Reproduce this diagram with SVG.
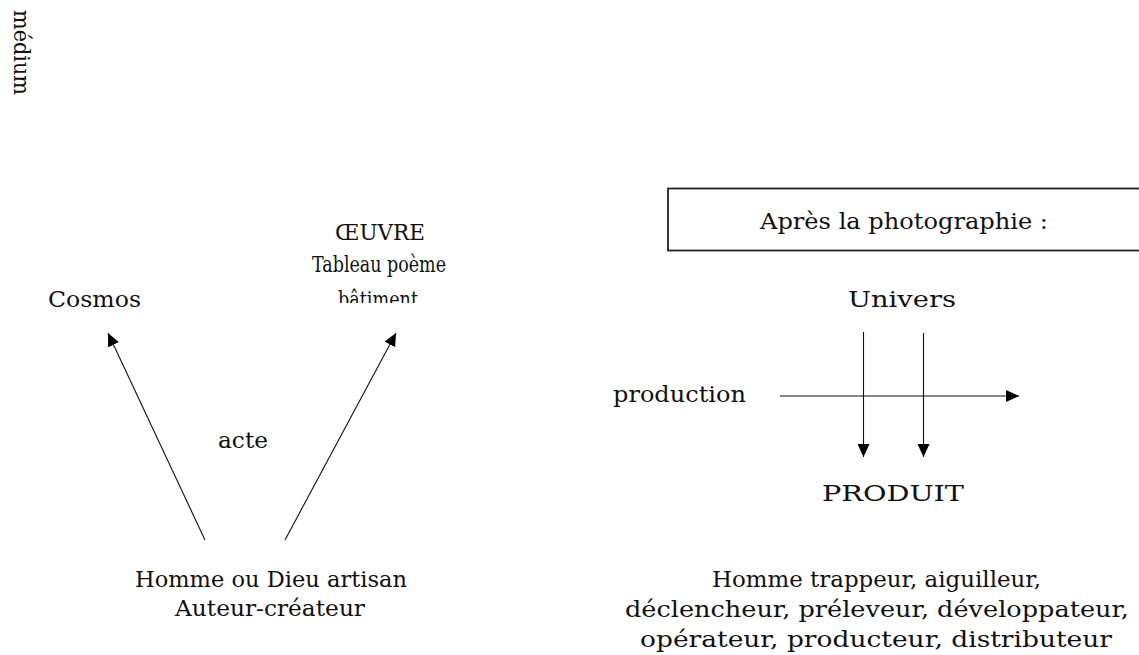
<svg xmlns="http://www.w3.org/2000/svg" width="1139" height="655" viewBox="0 0 1139 655">
<style>
text{font-family:"DejaVu Serif","Liberation Serif",serif;font-size:23px;fill:#111}
.ln{stroke:#111;stroke-width:1.1;fill:none}
</style>
<defs>
<marker id="ah" markerUnits="userSpaceOnUse" markerWidth="14" markerHeight="13" refX="13" refY="6" orient="auto">
<path d="M0,0 L13,6 L0,12 z" fill="#000"/>
</marker>
<clipPath id="clipB"><rect x="300" y="270" width="160" height="33"/></clipPath>
</defs>
<rect width="1139" height="655" fill="#fff"/>
<g id="medium"><text transform="translate(14,10) rotate(90)" x="0" y="0" textLength="85" lengthAdjust="spacingAndGlyphs">médium</text></g>
<g id="cosmos"><text x="48" y="307" textLength="93" lengthAdjust="spacingAndGlyphs">Cosmos</text></g>
<g id="oeuvre">
<text x="335" y="240" textLength="90" lengthAdjust="spacingAndGlyphs">ŒUVRE</text>
<text x="312" y="272" textLength="134" lengthAdjust="spacingAndGlyphs">Tableau poème</text>
<text x="338" y="307" textLength="80" lengthAdjust="spacingAndGlyphs" clip-path="url(#clipB)">bâtiment</text>
</g>
<g id="acte"><text x="218" y="448" textLength="50" lengthAdjust="spacingAndGlyphs">acte</text></g>
<g id="homme">
<text x="135" y="587" textLength="272" lengthAdjust="spacingAndGlyphs">Homme ou Dieu artisan</text>
<text x="175" y="616" textLength="190" lengthAdjust="spacingAndGlyphs">Auteur-créateur</text>
</g>
<g id="apres">
<rect x="668" y="188.5" width="520" height="62" fill="none" stroke="#222" stroke-width="1.8"/>
<text x="760" y="229" textLength="288" lengthAdjust="spacingAndGlyphs">Après la photographie :</text>
</g>
<g id="univers"><text x="848" y="307" textLength="108" lengthAdjust="spacingAndGlyphs">Univers</text></g>
<g id="production"><text x="613" y="402" textLength="133" lengthAdjust="spacingAndGlyphs">production</text></g>
<g id="produit"><text x="822" y="501" textLength="142" lengthAdjust="spacingAndGlyphs">PRODUIT</text></g>
<g id="homme2">
<text x="712" y="587" textLength="329" lengthAdjust="spacingAndGlyphs">Homme trappeur, aiguilleur,</text>
<text x="625" y="617" textLength="504" lengthAdjust="spacingAndGlyphs">déclencheur, préleveur, développateur,</text>
<text x="640" y="647" textLength="472" lengthAdjust="spacingAndGlyphs">opérateur, producteur, distributeur</text>
</g>
<g id="connectors">
<line class="ln" x1="205" y1="540" x2="108" y2="333" marker-end="url(#ah)"/>
<line class="ln" x1="285" y1="540" x2="396" y2="333" marker-end="url(#ah)"/>
<line class="ln" x1="780" y1="396" x2="1019" y2="396" marker-end="url(#ah)"/>
<line class="ln" x1="863.5" y1="332" x2="863.5" y2="457" marker-end="url(#ah)"/>
<line class="ln" x1="923.5" y1="333" x2="923.5" y2="457" marker-end="url(#ah)"/>
</g>
</svg>
